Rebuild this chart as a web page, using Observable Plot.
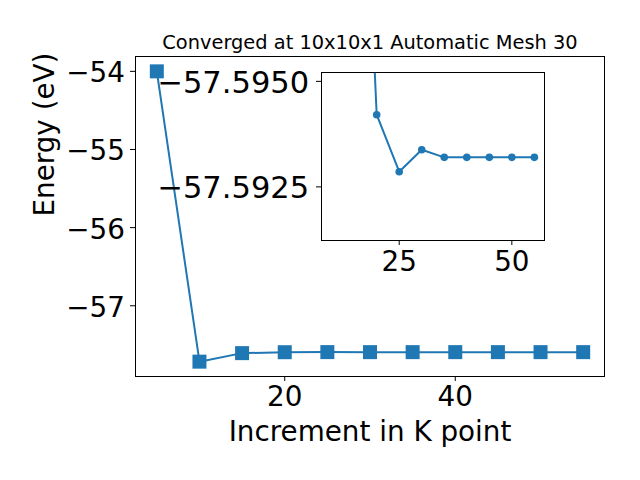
<!DOCTYPE html>
<html><head><meta charset="utf-8">
<script src="https://cdn.jsdelivr.net/npm/d3@7"></script>
<script src="https://cdn.jsdelivr.net/npm/@observablehq/plot@0.6"></script>
<style>
body{margin:0;background:white;}
#chart{position:relative;width:640px;height:480px;font-family:"DejaVu Sans",sans-serif;}
#chart svg{position:absolute;}
</style></head><body><div id="chart"></div>
<script>
const title = "Converged at 10x10x1 Automatic Mesh 30";
const xLabel = "Increment in K point";
const yLabel = "Energy (eV)";
const kpoints = [5, 10, 15, 20, 25, 30, 35, 40, 45, 50, 55];
const energies = [-54.00, -57.715, -57.606, -57.59421, -57.59286, -57.59338, -57.59320, -57.59320, -57.59320, -57.59320, -57.59320];
const mainXTicks = [20, 40];
const mainYTicks = [-57, -56, -55, -54];
const insetXTicks = [25, 50];
const insetYTicks = [-57.5950, -57.5925];

const data = kpoints.map((k, i) => ({k, e: energies[i]}));
const insetData = data.filter(d => d.k >= 15);
const blue = "#1f77b4";
const font = "DejaVu Sans";
const empty = () => "";

const main = Plot.plot({
  width: 640, height: 480,
  marginLeft: 135, marginRight: 36, marginTop: 56, marginBottom: 104,
  style: {fontFamily: font, background: "transparent", color: "black", left: "0px", top: "0px"},
  x: {domain: [2.5, 57.5]},
  y: {domain: [-57.905, -53.81]},
  marks: [
    Plot.frame({stroke: "black", strokeWidth: 1}),
    Plot.axisX({ticks: mainXTicks, tickSize: 5, tickPadding: 5, fontSize: 27.8, label: null, tickFormat: d3.format("d")}),
    Plot.axisY({ticks: mainYTicks, tickSize: 5, label: null, tickFormat: empty}),
    Plot.axisY({ticks: mainYTicks, tickSize: 0, tickPadding: 10.5, dy: 2, fontSize: 27.8, label: null, tickFormat: d3.format("d")}),
    Plot.line(data, {x: "k", y: "e", stroke: blue, strokeWidth: 2}),
    Plot.dot(data, {x: "k", y: "e", symbol: "square", r: 7.9, fill: blue}),
    Plot.text([title], {text: d => d, frameAnchor: "top", dy: -14, lineAnchor: "middle", fontSize: 19.4, fill: "black"}),
    Plot.text([yLabel], {text: d => d, frameAnchor: "left", dx: -90, rotate: -90, lineAnchor: "middle", fontSize: 27.8, fill: "black"}),
    Plot.text([xLabel], {text: d => d, frameAnchor: "bottom", dy: 56, lineAnchor: "middle", fontSize: 27.8, fill: "black"})
  ]
});

const inset = Plot.plot({
  width: 420, height: 230,
  marginLeft: 181, marginRight: 16, marginTop: 20, marginBottom: 42,
  style: {fontFamily: font, background: "transparent", color: "black", left: "140px", top: "52px"},
  x: {domain: [7.75, 57.25]},
  y: {domain: [-57.59123, -57.59521]},
  marks: [
    Plot.frame({fill: "white"}),
    Plot.line(insetData, {x: "k", y: "e", stroke: blue, strokeWidth: 2, clip: true}),
    Plot.dot(insetData, {x: "k", y: "e", r: 3.8, fill: blue, clip: true}),
    Plot.frame({stroke: "black", strokeWidth: 1}),
    Plot.axisX({ticks: insetXTicks, tickSize: 5, tickPadding: 5.5, fontSize: 27.8, label: null, tickFormat: d3.format("d")}),
    Plot.axisY({ticks: insetYTicks, tickSize: 5, label: null, tickFormat: empty}),
    Plot.axisY({ticks: insetYTicks, tickSize: 0, tickPadding: 12.4, dy: 1.5, fontSize: 30.5, label: null, tickFormat: d3.format(".4f")})
  ]
});

const c = document.getElementById("chart");
c.appendChild(main);
c.appendChild(inset);
</script></body></html>
